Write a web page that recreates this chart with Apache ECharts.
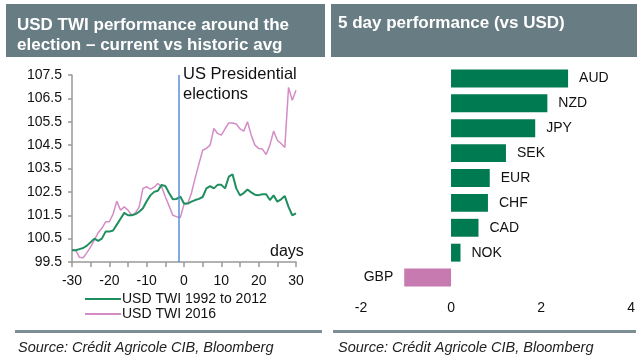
<!DOCTYPE html>
<html>
<head>
<meta charset="utf-8">
<script src="https://cdn.jsdelivr.net/npm/echarts@6/dist/echarts.min.js"></script>
<style>
html,body{margin:0;padding:0;background:#fff;}
#chart{width:638px;height:362px;}
</style>
</head>
<body>
<div id="chart"></div>
<script>
// ---- Data ----
const days = [-30,-29,-28,-27,-26,-25,-24,-23,-22,-21,-20,-19,-18,-17,-16,-15,-14,-13,-12,-11,-10,-9,-8,-7,-6,-5,-4,-3,-2,-1,0,1,2,3,4,5,6,7,8,9,10,11,12,13,14,15,16,17,18,19,20,21,22,23,24,25,26,27,28,29,30];
const twiHistoric = [100.0,100.0,100.05,100.1,100.2,100.35,100.5,100.4,100.5,100.8,100.8,100.85,101.1,101.35,101.6,101.5,101.5,101.55,101.65,101.8,102.1,102.35,102.5,102.55,102.8,102.75,102.45,102.18,102.2,102.3,102.0,102.0,102.08,102.15,102.2,102.28,102.65,102.75,102.65,102.8,102.8,102.65,103.15,103.25,102.65,102.35,102.45,102.6,102.48,102.38,102.36,102.4,102.4,102.15,102.35,102.08,102.18,102.32,101.86,101.5,101.58];
const twi2016 = [100.0,100.0,99.7,99.68,99.9,100.15,100.45,100.75,100.94,101.22,101.22,101.55,102.1,101.72,101.86,101.72,101.5,101.6,101.86,102.65,102.72,102.62,102.7,102.86,102.72,102.29,101.9,101.5,101.44,101.4,101.97,102.0,102.45,103.1,103.7,104.28,104.36,104.5,105.21,105.0,104.93,105.2,105.45,105.45,105.4,105.2,105.1,105.5,104.93,104.5,104.36,104.33,104.1,104.5,105.1,104.71,104.57,104.4,106.97,106.42,106.85];
const electionDay = -1.4;
const yTickLabels = ['99.5','100.5','101.5','102.5','103.5','104.5','105.5','106.5','107.5'];
const seriesNames = ['USD TWI 1992 to 2012','USD TWI 2016'];

const currencies = ['AUD','NZD','JPY','SEK','EUR','CHF','CAD','NOK','GBP'];
const perf5d = [2.6,2.14,1.87,1.22,0.86,0.82,0.61,0.21,-1.04];

// ---- Styles ----
const FONT = "'Liberation Sans', Arial, sans-serif";
const HEAD = '#687d83';
const GREEN_LINE = '#1f8f5f';
const PINK_LINE = '#d48cc6';
const GREEN_BAR = '#007a50';
const PINK_BAR = '#c77ab0';
const AX = '#999999';
const TXT = '#111';

const chart = echarts.init(document.getElementById('chart'), null, {renderer:'canvas'});

const option = {
  animation: false,
  textStyle: {fontFamily: FONT},
  graphic: [
    {type:'rect', shape:{x:6,y:4,width:319,height:53}, style:{fill:HEAD}},
    {type:'rect', shape:{x:331,y:4,width:306,height:53}, style:{fill:HEAD}},
    {type:'text', left:17, top:15, style:{text:'USD TWI performance around the\nelection – current vs historic avg', fill:'#fff', font:'bold 17px '+FONT, lineHeight:20}},
    {type:'text', left:338, top:15, style:{text:'5 day performance (vs USD)', fill:'#fff', font:'bold 17px '+FONT}},
    {type:'rect', shape:{x:15,y:330,width:307,height:3}, style:{fill:'#7b8f95'}},
    {type:'rect', shape:{x:333,y:330,width:303,height:3}, style:{fill:'#7b8f95'}},
    {type:'text', left:18, top:340, style:{text:'Source: Crédit Agricole CIB, Bloomberg', fill:'#222', font:'italic 14.5px '+FONT}},
    {type:'text', left:338, top:340, style:{text:'Source: Crédit Agricole CIB, Bloomberg', fill:'#222', font:'italic 14.5px '+FONT}},
    {type:'text', left:183, top:64, style:{text:'US Presidential\nelections', fill:TXT, font:'16.5px '+FONT, lineHeight:20}},
    {type:'text', left:270, top:244, style:{text:'days', fill:TXT, font:'16px '+FONT}}
  ],
  legend: {
    orient:'vertical', left:80, top:287, itemGap:1,
    itemWidth:36, itemHeight:2, icon:'rect',
    textStyle:{fontSize:14, color:TXT, padding:[0,0,0,-4]},
    data: seriesNames
  },
  grid: [
    {left:72, right:342, top:75, bottom:100},
    {left:361, right:6, top:66, bottom:72}
  ],
  xAxis: [
    {type:'value', gridIndex:0, min:-30, max:30, interval:5,
     axisLine:{onZero:false, lineStyle:{color:AX, width:1.5}},
     axisTick:{length:5, lineStyle:{color:AX, width:1.5}},
     axisLabel:{margin:12, fontSize:14, color:TXT, formatter:v => (v % 10 === 0 ? String(v) : '')},
     splitLine:{show:false}},
    {type:'value', gridIndex:1, min:-2, max:4, interval:2,
     axisLine:{onZero:false, lineStyle:{color:AX, width:1.5}},
     axisTick:{length:5, lineStyle:{color:AX, width:1.5}},
     axisLabel:{margin:11, fontSize:14, color:TXT},
     splitLine:{show:false}}
  ],
  yAxis: [
    {type:'value', gridIndex:0, min:99.5, max:107.5, show:false, position:'left'},
    {type:'category', gridIndex:0, data:yTickLabels, boundaryGap:false, position:'left',
     axisLine:{onZero:false, lineStyle:{color:AX, width:1.5}},
     axisTick:{length:4, lineStyle:{color:AX, width:1.5}},
     axisLabel:{margin:10, fontSize:14, color:TXT},
     splitLine:{show:false}},
    {type:'category', gridIndex:1, data:currencies, inverse:true,
     axisLine:{show:false}, axisTick:{show:false}, axisLabel:{show:false}, splitLine:{show:false}}
  ],
  series: [
    {name:seriesNames[0], type:'line', xAxisIndex:0, yAxisIndex:0,
     data: days.map((d,i) => [d, twiHistoric[i]]),
     showSymbol:false, symbol:'none', color:GREEN_LINE,
     lineStyle:{width:2, color:GREEN_LINE},
     markLine:{silent:true, symbol:'none', label:{show:false},
       lineStyle:{color:'#5b8fd4', width:1.5, type:'solid'},
       data:[{xAxis: electionDay}]},
     z:3},
    {name:seriesNames[1], type:'line', xAxisIndex:0, yAxisIndex:0,
     data: days.map((d,i) => [d, twi2016[i]]),
     showSymbol:false, symbol:'none', color:PINK_LINE,
     lineStyle:{width:1.5, color:PINK_LINE}, z:2},
    {name:'5d', type:'bar', xAxisIndex:1, yAxisIndex:2,
     barCategoryGap:'28%',
     data: perf5d.map(v => ({
       value:v,
       itemStyle:{color: v < 0 ? PINK_BAR : GREEN_BAR},
       label:{position: v < 0 ? 'left' : 'right'}
     })),
     label:{show:true, formatter:'{b}', distance:11, fontSize:14, color:TXT}}
  ]
};
chart.setOption(option);
</script>
</body>
</html>
